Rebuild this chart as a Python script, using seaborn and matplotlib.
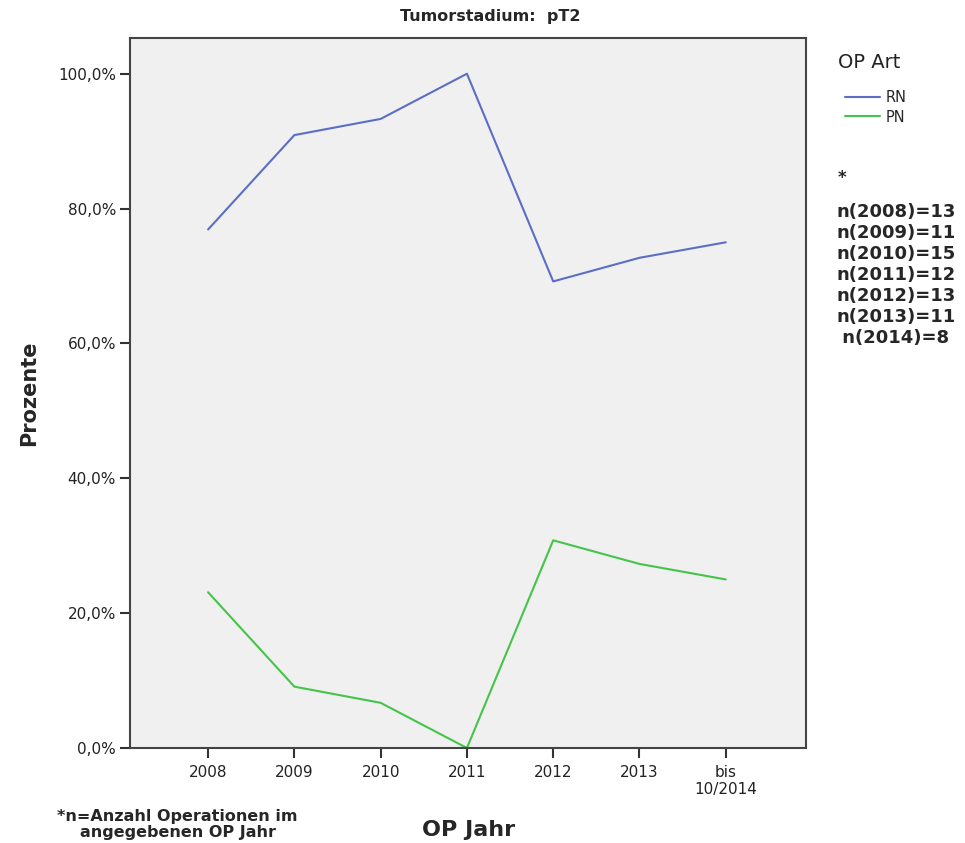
import matplotlib
matplotlib.use("Agg")
import matplotlib.pyplot as plt
from matplotlib.lines import Line2D
import seaborn as sns
import pandas as pd

years = ["2008", "2009", "2010", "2011", "2012", "2013", "bis\n10/2014"]
rn = [76.9, 90.9, 93.3, 100.0, 69.2, 72.7, 75.0]
pn = [23.1, 9.1, 6.7, 0.0, 30.8, 27.3, 25.0]
series = ["RN", "PN"]
n_labels = ["n(2008)=13", "n(2009)=11", "n(2010)=15", "n(2011)=12",
            "n(2012)=13", "n(2013)=11", " n(2014)=8"]
yticks = [0, 20, 40, 60, 80, 100]

df = pd.DataFrame({
    "pos": list(range(len(years))) * 2,
    "val": rn + pn,
    "art": ["RN"] * len(years) + ["PN"] * len(years),
})

sns.set_style("white")
plt.rcParams["font.family"] = ["DejaVu Sans"]

fig = plt.figure(figsize=(9.65, 8.43), dpi=100)
ax = fig.add_axes([130 / 965, (843 - 748) / 843, (806 - 130) / 965, (748 - 38) / 843])
ax.set_facecolor("#f0f0f0")

palette = {"RN": "#5a6ec6", "PN": "#45c44a"}
sns.lineplot(data=df, x="pos", y="val", hue="art", hue_order=series,
             palette=palette, linewidth=1.5, ax=ax, legend=False)

ax.set_xlim(-0.905, 6.93)
ax.set_ylim(0, 105.3)
ax.set_xticks(range(len(years)))
ax.set_xticklabels(years, fontsize=11, color="#222222", linespacing=1.2)
ax.set_yticks(yticks)
ax.set_yticklabels([f"{v},0%" for v in yticks], fontsize=11, color="#222222")
ax.tick_params(axis="both", which="major", bottom=True, left=True, direction="out",
               length=7, width=1.5, color="#333333")
ax.tick_params(axis="x", pad=5)
ax.tick_params(axis="y", pad=3)
for s in ax.spines.values():
    s.set_color("#444444")
    s.set_linewidth(1.5)
ax.set_xlabel("")
ax.set_ylabel("Prozente", fontsize=15, fontweight="bold", labelpad=14)

fig.text(490 / 965, 1 - 16 / 843, "Tumorstadium:  pT2", ha="center", va="center",
         fontsize=11.5, fontweight="bold")
fig.text(469 / 965, 1 - 830 / 843, "OP Jahr", ha="center", va="center",
         fontsize=16, fontweight="bold")
fig.text(57 / 965, 1 - 817 / 843, "*n=Anzahl Operationen im", ha="left", va="center",
         fontsize=11.5, fontweight="bold")
fig.text(80 / 965, 1 - 832 / 843, "angegebenen OP Jahr", ha="left", va="center",
         fontsize=11.5, fontweight="bold")

# legend
fig.text(838 / 965, 1 - 62 / 843, "OP Art", ha="left", va="center", fontsize=14,
         color="#222222")
handles = [Line2D([], [], color=palette[s], linewidth=1.5) for s in series]
fig.legend(handles, series, loc="upper left",
           bbox_to_anchor=(835 / 965, 1 - 80 / 843), frameon=False,
           fontsize=10.5, handlelength=2.4, handletextpad=0.4, labelspacing=0.3,
           borderpad=0.2)

fig.text(838 / 965, 1 - 178 / 843, "*", ha="left", va="center", fontsize=12, fontweight="bold")
fig.text(836 / 965, 1 - 203 / 843, "\n".join(n_labels), ha="left", va="top",
         fontsize=13, fontweight="bold", linespacing=1.21)

fig.savefig("out.png", dpi=100)
